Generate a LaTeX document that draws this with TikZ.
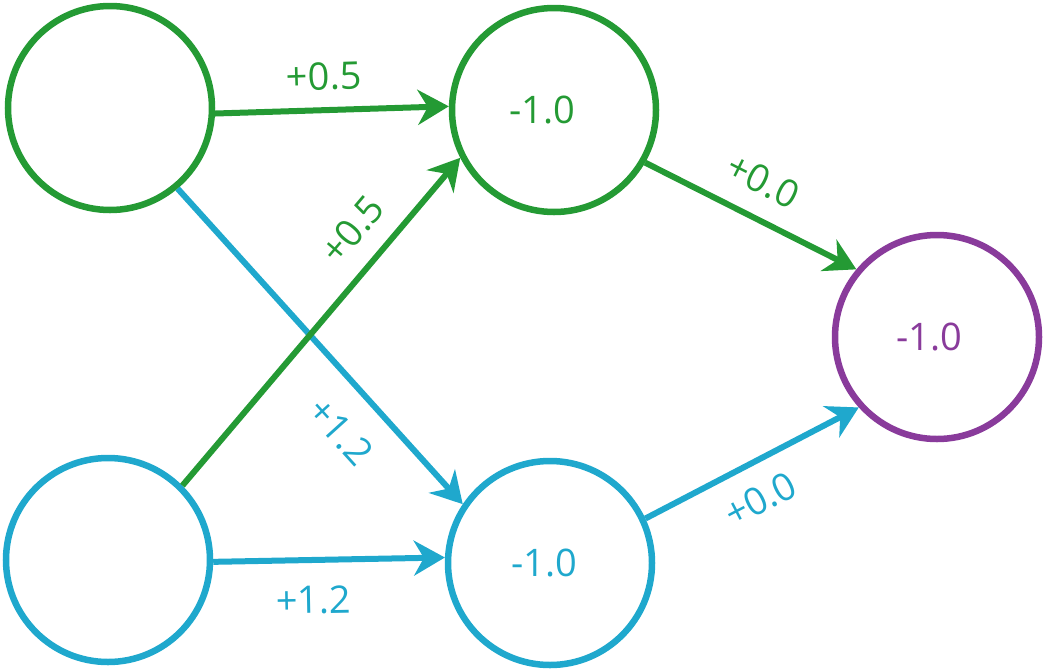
\documentclass[tikz,border=0pt]{standalone}
\usepackage{fontspec}
\setmainfont{Open Sans}
\usetikzlibrary{arrows.meta}
\definecolor{wgreen}{RGB}{36,154,52}
\definecolor{wblue}{RGB}{31,168,205}
\definecolor{wpurple}{RGB}{137,59,155}

\begin{document}
\begin{tikzpicture}[
    x=1pt, y=-1pt,
    neuron/.style={draw, circle, line width=6.5pt, minimum size=204pt, inner sep=0pt},
    bias/.style={font=\fontsize{38}{40}\selectfont, inner sep=0pt},
    weight/.style={font=\fontsize{38}{40}\selectfont, inner sep=0pt, sloped},
    link/.style={line width=6pt, -{Stealth[length=31pt, width=35pt, inset=10pt]}}
]
\useasboundingbox (0,0) rectangle (1046,670);

% neurons
\node[neuron, wgreen] (in1) at (110,108) {};
\node[neuron, wblue] (in2) at (108,560) {};
\node[neuron, wgreen, label={[bias, text=wgreen, xshift=-12pt]center:-1.0}] (hid1) at (554,110) {};
\node[neuron, wblue, label={[bias, text=wblue, xshift=-6pt]center:-1.0}] (hid2) at (550,563) {};
\node[neuron, wpurple, label={[bias, text=wpurple, xshift=-8pt]center:-1.0}] (out) at (937,337) {};

% weights
\draw[link, wblue] (in1.-50) -- (hid2.146) node[weight, pos=0.68, below=25pt] {+1.2};
\draw[link, wgreen] (in2.45) -- (hid1.207) node[weight, pos=0.71, above=19pt] {+0.5};
\draw[link, wgreen] (in1.-3) -- (hid1.178) node[weight, pos=0.47, above=17pt] {+0.5};
\draw[link, wblue] (in2.-1) -- (hid2.177) node[weight, pos=0.43, below=23pt] {+1.2};
\draw[link, wgreen] (hid1.-30) -- (out.140) node[weight, pos=0.48, above=20pt] {+0.0};
\draw[link, wblue] (hid2.25) -- (out.222) node[weight, pos=0.46, below=19pt] {+0.0};
\end{tikzpicture}
\end{document}
